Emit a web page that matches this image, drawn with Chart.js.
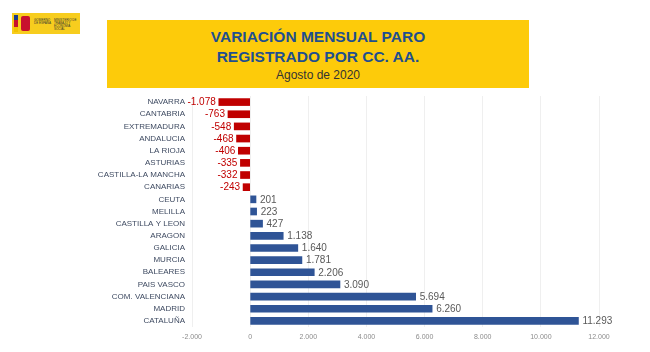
<!DOCTYPE html>
<html>
<head>
<meta charset="utf-8">
<script src="https://cdn.jsdelivr.net/npm/chart.js@4/dist/chart.umd.min.js"></script>
<style>
  html,body{margin:0;padding:0;background:#fff;}
  body{width:650px;height:352px;position:relative;overflow:hidden;font-family:"Liberation Sans",Arial,sans-serif;}
  #logo{position:absolute;left:12px;top:13px;width:68px;height:21px;background:#F7CD1E;}
  #logo .flag{position:absolute;left:2px;top:2px;width:4px;height:17px;background:linear-gradient(#1B3A8C 0 30%,#C8102E 30% 70%,#F2C200 70%);}
  #logo .emb{position:absolute;left:9px;top:3px;width:9px;height:15px;background:#C8102E;border-radius:2px;}
  #logo .t1{position:absolute;left:22px;top:6px;font-size:3px;line-height:3px;color:#333;width:18px;}
  #logo .t2{position:absolute;left:42px;top:6px;font-size:3px;line-height:3px;color:#333;width:25px;}
  #title{position:absolute;left:107px;top:20px;width:422px;height:68px;background:#FDCB0A;text-align:center;}
  #title .l1{position:absolute;left:0;right:0;top:7px;font-weight:bold;font-size:15.5px;line-height:20px;color:#1F4F8E;}
  #title .l3{position:absolute;left:0;right:0;top:48px;font-size:12px;line-height:14px;color:#333;}
  #c{position:absolute;left:0;top:0;}
</style>
</head>
<body>
<div id="logo"><div class="flag"></div><div class="emb"></div><div class="t1">GOBIERNO DE ESPAÑA</div><div class="t2">MINISTERIO DE TRABAJO Y ECONOMÍA SOCIAL</div></div>
<div id="title"><div class="l1">VARIACIÓN MENSUAL PARO<br>REGISTRADO POR CC. AA.</div><div class="l3">Agosto de 2020</div></div>
<canvas id="c" width="650" height="352"></canvas>
<script>
const categories = ["NAVARRA","CANTABRIA","EXTREMADURA","ANDALUCIA","LA RIOJA","ASTURIAS","CASTILLA-LA MANCHA","CANARIAS","CEUTA","MELILLA","CASTILLA Y LEON","ARAGON","GALICIA","MURCIA","BALEARES","PAIS VASCO","COM. VALENCIANA","MADRID","CATALUÑA"];
const values = [-1078,-763,-548,-468,-406,-335,-332,-243,201,223,427,1138,1640,1781,2206,3090,5694,6260,11293];
const xTicks = [-2000,0,2000,4000,6000,8000,10000,12000];

const NEG = "#C00000", POS = "#2F5496";
function fmt(v){
  const s = Math.abs(Math.round(v)).toString().replace(/\B(?=(\d{3})+(?!\d))/g,".");
  return (v<0?"-":"")+s;
}
const valueLabels = {
  id:"valueLabels",
  afterDatasetsDraw(chart){
    const ctx = chart.ctx;
    const meta = chart.getDatasetMeta(0);
    ctx.save();
    ctx.font = '10px "Liberation Sans", Arial, sans-serif';
    ctx.textBaseline = "middle";
    meta.data.forEach((bar,i)=>{
      const v = values[i];
      if(v<0){ctx.fillStyle=NEG;ctx.textAlign="right";ctx.fillText(fmt(v),bar.x-3,bar.y+0.5);}
      else{ctx.fillStyle="#595959";ctx.textAlign="left";ctx.fillText(fmt(v),bar.x+4,bar.y+0.5);}
    });
    ctx.restore();
  }
};
new Chart(document.getElementById("c"),{
  type:"bar",
  data:{labels:categories,datasets:[{data:values,backgroundColor:values.map(v=>v<0?NEG:POS),barThickness:7}]},
  options:{
    indexAxis:"y",responsive:false,animation:false,
    layout:{padding:{top:96,right:51,left:0,bottom:0}},
    plugins:{legend:{display:false},tooltip:{enabled:false}},
    scales:{
      x:{min:-2000,max:12000,
        afterBuildTicks(s){s.ticks=xTicks.map(v=>({value:v}));},
        afterFit(s){s.height=25;},
        grid:{color:"#EFEFEF",drawTicks:false},border:{display:false},
        ticks:{padding:6,color:"#8C8C8C",font:{size:7,family:'"Liberation Sans", Arial, sans-serif'},callback:v=>fmt(v)}},
      y:{afterFit(s){s.width=192;},
        grid:{display:false,drawTicks:false},border:{display:false},
        ticks:{padding:7,color:"#3E4A61",font:{size:8,family:'"Liberation Sans", Arial, sans-serif'},autoSkip:false}}
    }
  },
  plugins:[valueLabels]
});
</script>
</body>
</html>
